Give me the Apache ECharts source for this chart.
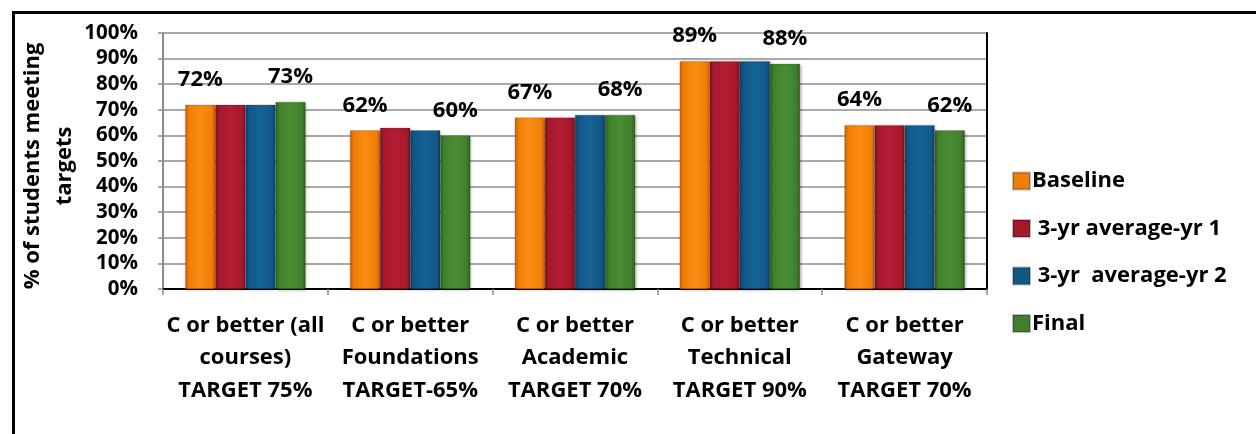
<!DOCTYPE html>
<html>
<head>
<meta charset="utf-8">
<style>
  html, body { margin: 0; padding: 0; background: #fff; }
  #chart { width: 1256px; height: 434px; }
</style>
<script src="https://cdn.jsdelivr.net/npm/echarts@6/dist/echarts.min.js"></script>
</head>
<body>
<div id="chart"></div>
<script>
// Course completion categories (x axis)
const categories = [
  'C or better (all\ncourses)\nTARGET 75%',
  'C or better\nFoundations\nTARGET-65%',
  'C or better\nAcademic\nTARGET 70%',
  'C or better\nTechnical\nTARGET 90%',
  'C or better\nGateway\nTARGET 70%'
];

// Percent of students meeting targets, per measurement period
const baseline = [72, 62, 67, 89, 64];
const avgYr1   = [72, 63, 67, 89, 64];
const avgYr2   = [72, 62, 68, 89, 64];
const final    = [73, 60, 68, 88, 62];

const seriesNames = ['Baseline', ' 3-yr average-yr 1', ' 3-yr  average-yr 2', 'Final'];
const yTitle = '% of students meeting\ntargets';

// Y axis ticks: 0% .. 100% every 10%
const yMin = 0, yMax = 100, yStep = 10;

const FONT = '"Open Sans", Lato, sans-serif';

// Beveled look: darker edges, brighter middle
function barFill(edge, mid, hi) {
  return new echarts.graphic.LinearGradient(0, 0, 1, 0, [
    { offset: 0, color: edge },
    { offset: 0.12, color: mid },
    { offset: 0.5, color: hi },
    { offset: 0.88, color: mid },
    { offset: 1, color: edge }
  ]);
}
const fills = [
  barFill('#c95f00', '#f07d06', '#fb8d14'),
  barFill('#7e0f1f', '#a5182c', '#b51d33'),
  barFill('#0b3f63', '#115887', '#166396'),
  barFill('#2d5c1d', '#40802c', '#4b8e34')
];
const legendColors = ['#f07d06', '#a5182c', '#115887', '#40802c'];

const valueLabel = {
  show: true,
  position: 'top',
  distance: 14,
  formatter: '{c}%',
  color: '#000',
  fontFamily: FONT,
  fontWeight: 'bold',
  fontSize: 22
};

function makeSeries(name, data, idx, labelled) {
  return {
    name: name,
    type: 'bar',
    data: data,
    xAxisIndex: 0,
    yAxisIndex: 0,
    barGap: '0%',
    barCategoryGap: '27%',
    itemStyle: {
      color: fills[idx],
      borderColor: 'rgba(0,0,0,0.25)',
      borderWidth: 0.5,
      shadowColor: 'rgba(0,0,0,0.35)',
      shadowBlur: 3,
      shadowOffsetX: 1,
      shadowOffsetY: 1
    },
    label: labelled ? valueLabel : { show: false },
    emphasis: { disabled: true }
  };
}

const chart = echarts.init(document.getElementById('chart'), null, { renderer: 'canvas' });

chart.setOption({
  animation: false,
  backgroundColor: '#fff',
  color: legendColors,
  textStyle: { fontFamily: FONT },
  graphic: [{
    type: 'rect',
    left: 11, top: 10,
    shape: { width: 1400, height: 600 },
    style: { fill: 'none', stroke: '#000', lineWidth: 3 },
    silent: true,
    z: 100
  }, {
    // rotated y-axis title
    type: 'text',
    x: 49,
    y: 166,
    rotation: Math.PI / 2,
    silent: true,
    style: {
      text: yTitle,
      fill: '#000',
      font: 'bold 22px ' + FONT,
      lineHeight: 32,
      align: 'center',
      verticalAlign: 'middle'
    }
  }],
  grid: { left: 163, right: 269, top: 33, bottom: 145, containLabel: false },
  legend: {
    orient: 'vertical',
    left: 1007,
    top: 165,
    itemGap: 25.5,
    itemWidth: 17,
    itemHeight: 17,
    icon: 'rect',
    data: seriesNames.map((n, i) => ({ name: n, itemStyle: { color: legendColors[i] } })),
    textStyle: { color: '#000', fontFamily: FONT, fontWeight: 'bold', fontSize: 22, padding: [0, 0, 0, -3] }
  },
  xAxis: [{
    type: 'category',
    data: categories,
    position: 'bottom',
    axisLine: { lineStyle: { color: '#8c8c8c', width: 2 } },
    axisTick: { show: true, alignWithLabel: false, length: 6, lineStyle: { color: '#8c8c8c', width: 1.5 } },
    axisLabel: {
      interval: 0,
      margin: 20,
      color: '#000',
      fontFamily: FONT,
      fontWeight: 'bold',
      fontSize: 22,
      lineHeight: 32.5,
      align: 'center'
    },
    splitLine: { show: false }
  }, {
    type: 'category',
    data: categories,
    position: 'top',
    axisLine: { lineStyle: { color: '#000', width: 2 } },
    axisTick: { show: false },
    axisLabel: { show: false }
  }],
  yAxis: [{
    type: 'value',
    min: yMin,
    max: yMax,
    interval: yStep,
    axisLine: { show: true, lineStyle: { color: '#8c8c8c', width: 2 } },
    axisTick: { show: true, length: 5, lineStyle: { color: '#8c8c8c', width: 1.5 } },
    axisLabel: {
      margin: 25,
      formatter: '{value}%',
      color: '#000',
      fontFamily: FONT,
      fontWeight: 'bold',
      fontSize: 20.5
    },
    splitLine: { show: true, lineStyle: { color: '#8c8c8c', width: 1.5 } }
  }, {
    type: 'value',
    min: yMin,
    max: yMax,
    interval: yStep,
    position: 'right',
    axisLine: { show: true, lineStyle: { color: '#000', width: 2 } },
    axisTick: { show: false },
    axisLabel: { show: false },
    splitLine: { show: false }
  }],
  series: [
    makeSeries(seriesNames[0], baseline, 0, true),
    makeSeries(seriesNames[1], avgYr1, 1, false),
    makeSeries(seriesNames[2], avgYr2, 2, false),
    makeSeries(seriesNames[3], final, 3, true)
  ]
});
</script>
</body>
</html>
